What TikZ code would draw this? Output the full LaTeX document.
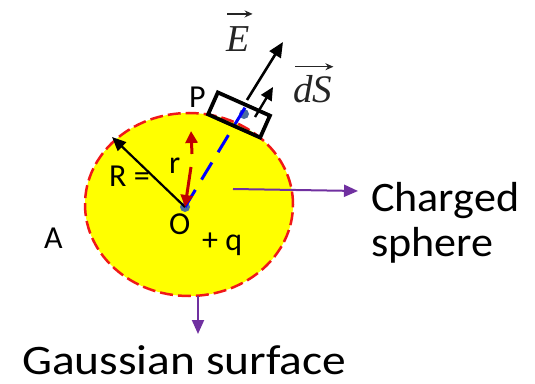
\documentclass[tikz,border=0pt]{standalone}
\usepackage{fontspec}
\setmainfont{Carlito}
\newfontfamily\vecfont{Liberation Serif}
\usetikzlibrary{arrows.meta,shapes.geometric}
\definecolor{sphyellow}{HTML}{FFFF00}
\definecolor{gred}{HTML}{F01818}
\definecolor{darkred}{HTML}{C00000}
\definecolor{gpurple}{HTML}{7030A0}
\definecolor{dotblue}{HTML}{4A6E9E}
\definecolor{vecgray}{HTML}{252525}
\tikzset{
  lbl/.style={anchor=base west,inner sep=0pt,font=\fontsize{32}{38}\selectfont},
  vlbl/.style={anchor=base west,inner sep=0pt,text=vecgray},
  vecbar/.style={draw=vecgray,line width=1.5pt,-{Stealth[length=8pt,width=7pt]}},
  bigtxt/.style={anchor=base west,inner sep=0pt},
  blackarrow/.style={draw=black,line width=2.6pt,-{Triangle[length=15pt,width=13pt]}},
  redarrow/.style={draw=darkred,line width=3pt,-{Triangle[length=12pt,width=12pt]}},
  purplearrow/.style={draw=gpurple,line width=2pt,-{Triangle[length=14pt,width=12pt]}},
  dotstyle/.style={circle,fill=dotblue,inner sep=0pt,minimum size=10pt},
}
\begin{document}
\begin{tikzpicture}[x=1pt,y=1pt]
\useasboundingbox (0,0) rectangle (535,383);
% sphere / Gaussian surface
\node[ellipse,fill=sphyellow,draw=gred,line width=2.5pt,dash pattern=on 13pt off 5pt,
      minimum width=208pt,minimum height=183pt,inner sep=0pt] (sph) at (189,178.5) {};
% points
\node[dotstyle] (O) at (185,176) {};
\node[dotstyle] (P) at (244,269) {};
% blue dashed radius
\draw[blue,line width=3pt,dash pattern=on 20pt off 12pt] (O.center) -- (246,277);
% surface element box
\node[draw=black,line width=3.8pt,minimum width=57pt,minimum height=24pt,inner sep=0pt,rotate=-24] (box) at (239,268) {};
% arrows E and dS
\coordinate (Etip) at (283,341);
\coordinate (Ebase) at (247,283);
\draw[blackarrow] (Ebase) -- (Etip);
\coordinate (dSbase) at (255,266);
\coordinate (dStip) at (273,296);
\draw[blackarrow,line width=2.4pt,-{Triangle[length=13pt,width=12pt]}] (dSbase) -- (dStip);
% radius R
\coordinate (Rtip) at (112,246);
\draw[blackarrow,line width=2.2pt,-{Triangle[length=14pt,width=12pt]}] (O.center) -- (Rtip);
% red r arrows
\coordinate (rupbase) at (192,229);
\coordinate (ruptip) at (191,252);
\draw[redarrow] (rupbase) -- (ruptip);
\coordinate (rdnbase) at (191,216);
\draw[redarrow] (rdnbase) -- (O.center);
% purple pointers
\coordinate (chgbase) at (233,194);
\coordinate (chgtip) at (358,192);
\draw[purplearrow] (chgbase) -- (chgtip);
\coordinate (gsbase) at (198,87);
\coordinate (gstip) at (198,49);
\draw[purplearrow] (gsbase) -- (gstip);
% labels
\node[lbl] (lA) at (44,134) {A};
\node[lbl] (lP) at (189,275) {P};
\node[lbl] (lR) at (109,196) {R =};
\node[lbl] (lr) at (169,209) {r};
\node[lbl] (lO) at (169,148) {O};
\node[lbl] (lq) at (202,132) {+ q};
\node[vlbl,font=\vecfont\itshape\fontsize{38}{40}\selectfont] (lE) at (226,331) {E};
\draw[vecbar] ([xshift=1pt,yshift=13pt]lE.north west) -- ([xshift=3pt,yshift=13pt]lE.north east);
\node[vlbl,font=\vecfont\itshape\fontsize{39}{40}\selectfont] (ldS) at (293,280) {dS};
\draw[vecbar] ([xshift=2pt,yshift=9pt]ldS.north west) -- ([xshift=1pt,yshift=9pt]ldS.north east);
\node[bigtxt,font=\fontsize{42}{45}\selectfont,xscale=1.05] (lC) at (371,171) {Charged};
\node[bigtxt,font=\fontsize{42}{45}\selectfont,xscale=1.05] (lC2) at (371,126) {sphere};
\node[bigtxt,font=\fontsize{42}{45}\selectfont,xscale=1.13] (lG) at (22,9) {Gaussian surface};
\end{tikzpicture}
\end{document}
